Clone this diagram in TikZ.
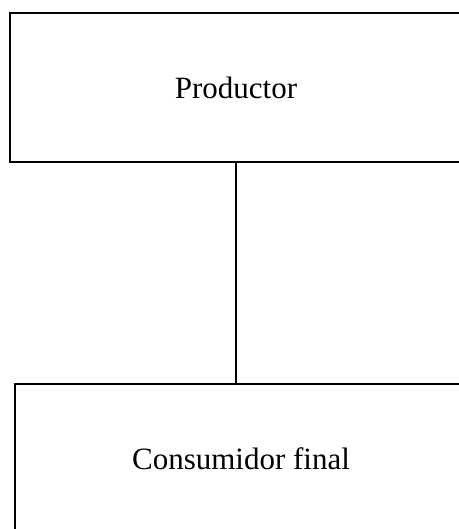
\documentclass[tikz,border=0pt]{standalone}
\usepackage{fontspec}
\setmainfont{Liberation Serif}
\usepackage{tikz}

\begin{document}
\begin{tikzpicture}[x=1pt, y=1pt, box/.style={draw, line width=1.4pt, minimum width=452pt, font=\fontsize{31}{36}\selectfont}]
	\useasboundingbox (0,0) rectangle (458,-529);
	\node (P) [box, minimum height=149pt] at (236,-87.5) {Productor};
	\node (C) [box, minimum height=150pt] at (241,-459) {Consumidor final};
	\draw[line width=1.4pt](P.south) -- (P.south |- C.north);
	\end{tikzpicture}
\end{document}
